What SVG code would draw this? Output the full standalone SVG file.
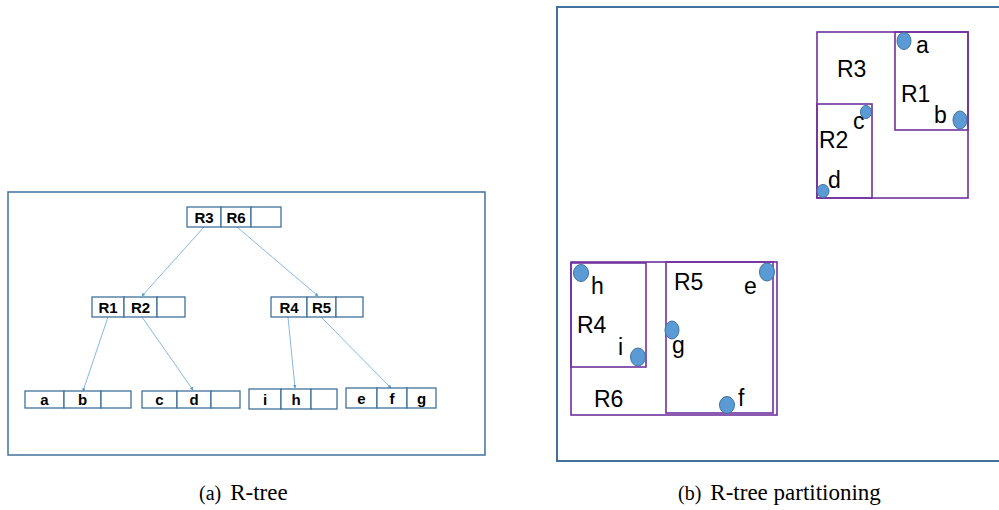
<svg xmlns="http://www.w3.org/2000/svg" width="999" height="510" viewBox="0 0 999 510">
  <style>
    .frame { fill: none; stroke: #41719c; stroke-width: 1.5; }
    .cell { fill: #ffffff; stroke: #41719c; stroke-width: 1.3; }
    .key { font-family: "Liberation Sans", Arial, sans-serif; font-weight: bold; font-size: 15px; fill: #000; text-anchor: middle; }
    .edge { stroke: #7aaee0; stroke-width: 0.9; fill: none; marker-end: url(#tip); }
    .mbr { fill: none; stroke: #7030a0; stroke-width: 1.6; }
    .pt { fill: #5b9bd5; stroke: #41719c; stroke-width: 1; }
    .lbl { font-family: "Liberation Sans", Arial, sans-serif; font-size: 23px; fill: #000; }
    .cap { font-family: "Liberation Serif", "Times New Roman", serif; font-size: 23px; fill: #000; }
    .tag { font-size: 20px; }
  </style>
  <defs>
    <marker id="tip" viewBox="0 0 6 6" refX="5" refY="3" markerWidth="4" markerHeight="4" orient="auto">
      <path d="M0,0 L6,3 L0,6 z" fill="#5b9bd5"/>
    </marker>
  </defs>

  <rect width="999" height="510" fill="#ffffff"/>

  <!-- (a) tree structure -->
  <rect class="frame" x="8" y="192" width="477" height="263"/>

  <g id="edges">
    <line class="edge" x1="204" y1="227" x2="142" y2="296"/>
    <line class="edge" x1="237" y1="227" x2="318" y2="296"/>
    <line class="edge" x1="108" y1="317" x2="83" y2="391"/>
    <line class="edge" x1="142" y1="317" x2="193" y2="390"/>
    <line class="edge" x1="288" y1="317" x2="295" y2="388"/>
    <line class="edge" x1="321" y1="317" x2="391" y2="388"/>
  </g>

  <g id="root">
    <rect class="cell" x="187" y="207" width="34" height="20"/>
    <rect class="cell" x="221" y="207" width="30" height="20"/>
    <rect class="cell" x="251" y="207" width="30" height="20"/>
    <text class="key" x="204" y="223">R3</text>
    <text class="key" x="236" y="223">R6</text>
  </g>

  <g id="node-r1r2">
    <rect class="cell" x="92" y="297" width="32" height="20"/>
    <rect class="cell" x="124" y="297" width="33" height="20"/>
    <rect class="cell" x="157" y="297" width="28" height="20"/>
    <text class="key" x="108" y="313">R1</text>
    <text class="key" x="140.5" y="313">R2</text>
  </g>

  <g id="node-r4r5">
    <rect class="cell" x="271" y="297" width="36" height="20"/>
    <rect class="cell" x="307" y="297" width="29" height="20"/>
    <rect class="cell" x="336" y="297" width="27" height="20"/>
    <text class="key" x="289" y="313">R4</text>
    <text class="key" x="321.5" y="313">R5</text>
  </g>

  <g id="leaf-ab">
    <rect class="cell" x="25" y="391" width="39" height="17"/>
    <rect class="cell" x="64" y="391" width="37" height="17"/>
    <rect class="cell" x="101" y="391" width="30" height="17"/>
    <text class="key" x="44.5" y="405">a</text>
    <text class="key" x="82.5" y="405">b</text>
  </g>

  <g id="leaf-cd">
    <rect class="cell" x="142" y="391" width="35" height="17"/>
    <rect class="cell" x="177" y="391" width="34" height="17"/>
    <rect class="cell" x="211" y="391" width="29" height="17"/>
    <text class="key" x="159.5" y="405">c</text>
    <text class="key" x="194" y="405">d</text>
  </g>

  <g id="leaf-ih">
    <rect class="cell" x="249" y="389" width="32" height="20"/>
    <rect class="cell" x="281" y="389" width="30" height="20"/>
    <rect class="cell" x="311" y="389" width="26" height="20"/>
    <text class="key" x="265" y="405">i</text>
    <text class="key" x="296" y="405">h</text>
  </g>

  <g id="leaf-efg">
    <rect class="cell" x="346" y="388" width="31" height="20"/>
    <rect class="cell" x="377" y="388" width="30" height="20"/>
    <rect class="cell" x="407" y="388" width="29" height="20"/>
    <text class="key" x="361.5" y="404">e</text>
    <text class="key" x="392" y="404">f</text>
    <text class="key" x="421.5" y="404">g</text>
  </g>

  <text class="cap" x="199" y="500"><tspan class="tag">(a)</tspan><tspan dx="9">R-tree</tspan></text>

  <!-- (b) spatial partitioning -->
  <rect class="frame" x="557" y="7" width="450" height="454" style="stroke-width:2"/>

  <g id="R3">
    <rect class="mbr" x="817" y="32" width="151" height="166"/>
    <text class="lbl" x="837" y="77">R3</text>
  </g>
  <g id="R1">
    <rect class="mbr" x="895" y="32" width="73" height="98"/>
    <text class="lbl" x="901" y="102">R1</text>
  </g>
  <g id="R2">
    <rect class="mbr" x="817" y="104" width="55" height="94"/>
    <text class="lbl" x="819" y="148">R2</text>
  </g>
  <g id="R6">
    <rect class="mbr" x="571" y="262" width="206" height="153"/>
    <text class="lbl" x="594" y="407">R6</text>
  </g>
  <g id="R4">
    <rect class="mbr" x="571" y="263" width="75" height="104"/>
    <text class="lbl" x="577" y="333">R4</text>
  </g>
  <g id="R5">
    <rect class="mbr" x="666" y="262" width="107" height="151"/>
    <text class="lbl" x="674" y="290">R5</text>
  </g>

  <g id="point-a">
    <ellipse class="pt" cx="904" cy="41" rx="7" ry="8.5"/>
    <text class="lbl" x="916" y="53">a</text>
  </g>
  <g id="point-b">
    <ellipse class="pt" cx="960" cy="120" rx="7" ry="9"/>
    <text class="lbl" x="934" y="123">b</text>
  </g>
  <g id="point-c">
    <ellipse class="pt" cx="866" cy="112" rx="5.5" ry="6.5"/>
    <text class="lbl" x="853" y="129">c</text>
  </g>
  <g id="point-d">
    <ellipse class="pt" cx="823" cy="191" rx="6" ry="6.5"/>
    <text class="lbl" x="828" y="188">d</text>
  </g>
  <g id="point-h">
    <ellipse class="pt" cx="581" cy="273" rx="7.5" ry="8.5"/>
    <text class="lbl" x="591" y="294">h</text>
  </g>
  <g id="point-i">
    <ellipse class="pt" cx="638" cy="357" rx="7.5" ry="9"/>
    <text class="lbl" x="618" y="355">i</text>
  </g>
  <g id="point-e">
    <ellipse class="pt" cx="767" cy="272" rx="7.5" ry="9"/>
    <text class="lbl" x="744" y="294">e</text>
  </g>
  <g id="point-g">
    <ellipse class="pt" cx="672" cy="330" rx="7" ry="9"/>
    <text class="lbl" x="672" y="353">g</text>
  </g>
  <g id="point-f">
    <ellipse class="pt" cx="727" cy="405" rx="7.5" ry="8.5"/>
    <text class="lbl" x="738" y="406">f</text>
  </g>

  <text class="cap" x="678" y="500"><tspan class="tag">(b)</tspan><tspan dx="9">R-tree partitioning</tspan></text>
</svg>
